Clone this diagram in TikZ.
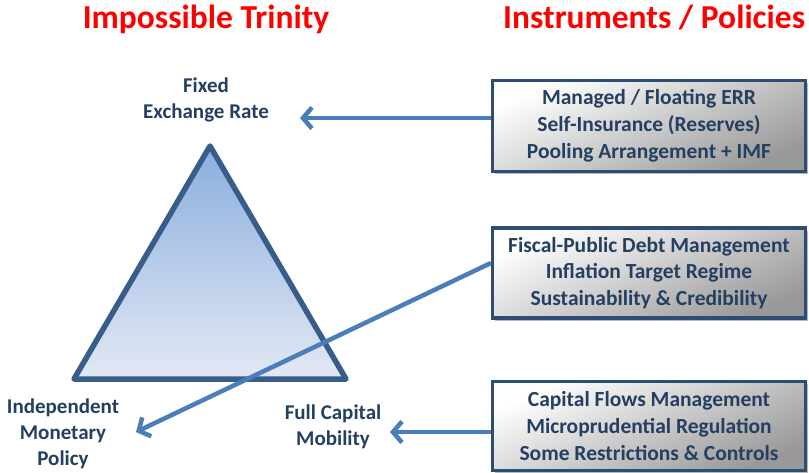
\documentclass[tikz,border=0pt]{standalone}
\usepackage{fontspec}
\setmainfont{Carlito}
\usetikzlibrary{arrows.meta,shadows}
\definecolor{titlered}{HTML}{FF0000}
\definecolor{txtblue}{HTML}{243F60}
\definecolor{boxborder}{HTML}{2E4D73}
\definecolor{tristroke}{HTML}{385D8A}
\definecolor{arrowblue}{HTML}{4A7EBB}
\definecolor{tritop}{HTML}{8AAEDE}
\definecolor{tribot}{HTML}{E3E8F4}
\tikzset{
  title/.style={font=\fontsize{33.5}{38}\selectfont\bfseries, text=titlered, inner sep=0pt},
  lbl/.style={font=\fontsize{21}{26}\selectfont\bfseries, text=txtblue, align=center, inner sep=0pt},
  policybox/.style={draw=boxborder, line width=3.2pt, top color=white, bottom color=black!40, shading angle=25,
     drop shadow={shadow xshift=2.5pt, shadow yshift=-2.5pt, opacity=0.55},
     font=\fontsize{21.5}{26.8}\selectfont\bfseries, text=txtblue, align=center, inner sep=0pt},
  conn/.style={draw=arrowblue, line width=4.5pt, -{Straight Barb[length=9pt,width=21pt]}}
}
\begin{document}
\begin{tikzpicture}[x=1pt,y=-1pt]
\useasboundingbox (0,0) rectangle (809,472);
\begin{scope}
\clip (0,0) rectangle (809,472);
% titles
\node[title, anchor=base] (t1) at (206,28) {Impossible Trinity};
\node[title, anchor=base west] (t2) at (503,28) {Instruments / Policies};
% triangle
\coordinate (apex) at (210,146);
\coordinate (bl) at (74,379);
\coordinate (br) at (346,379);
\shade[top color=tritop, bottom color=tribot] (apex) -- (br) -- (bl) -- cycle;
\draw[tristroke, line width=5.5pt, line join=round] (apex) -- (br) -- (bl) -- cycle;
% labels
\node[lbl] (fixed) at (206,100) {Fixed\\Exchange Rate};
\node[lbl] (indep) at (63,434) {Independent\\Monetary\\Policy};
\node[lbl] (full) at (333,427) {Full Capital\\Mobility};
% boxes
\node[policybox, minimum width=313pt, minimum height=91pt] (b1) at (649,126)
  {Managed / Floating ERR\\Self-Insurance (Reserves)\\Pooling Arrangement + IMF};
\node[policybox, minimum width=313pt, minimum height=90pt] (b2) at (649,273)
  {Fiscal-Public Debt Management\\Inflation Target Regime\\Sustainability \& Credibility};
\node[policybox, minimum width=313pt, minimum height=89pt] (b3) at (649,426)
  {Capital Flows Management\\Microprudential Regulation\\Some Restrictions \& Controls};
% connectors
\coordinate (a1) at (300,118);
\coordinate (a2) at (136,432);
\coordinate (a3) at (390,432);
\draw[conn] (b1.west |- a1) -- (a1);
\draw[conn] (b2.west) ++(0,-10) -- (a2);
\draw[conn] (b3.west |- a3) -- (a3);
\end{scope}
\end{tikzpicture}
\end{document}
